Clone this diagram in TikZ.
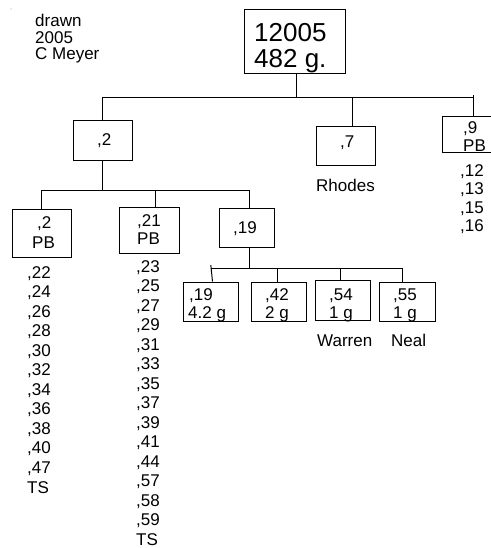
\documentclass[tikz,border=0pt]{standalone}
\usepackage{fontspec}
\setmainfont{Liberation Sans}
\begin{document}
\begin{tikzpicture}[x=1pt,y=-1pt,
  box/.style={draw, line width=1pt, inner sep=0pt},
  conn/.style={line width=1pt},
  lbl/.style={anchor=base west, inner sep=0pt, font=\fontsize{17}{19.5}\selectfont},
  big/.style={anchor=base west, inner sep=0pt, font=\fontsize{26}{26}\selectfont}]
\useasboundingbox (0,0) rectangle (490,548);
\fill[gray!70] (11,9) circle (0.6);
% header
\node[lbl] (hd1) at (35,27) {drawn};
\node[lbl] (hd2) at (35,44) {2005};
\node[lbl] (hd3) at (35,60) {C Meyer};
% boxes
\node[box, minimum width=101pt, minimum height=64pt] (root) at (294.5,42) {};
\node[box, minimum width=59pt, minimum height=40pt] (n2) at (102.5,141) {};
\node[box, minimum width=59pt, minimum height=39pt] (n7) at (345.5,146.5) {};
\node[box, minimum width=60pt, minimum height=36pt] (n9) at (472,135) {};
\node[box, minimum width=59pt, minimum height=48pt] (n2pb) at (41.5,233) {};
\node[box, minimum width=60pt, minimum height=46pt] (n21pb) at (149,230) {};
\node[box, minimum width=55pt, minimum height=39pt] (n19) at (246.5,227.5) {};
\node[box, minimum width=55pt, minimum height=39pt] (n19b) at (210.5,301.5) {};
\node[box, minimum width=55pt, minimum height=39pt] (n42) at (278.5,301.5) {};
\node[box, minimum width=55pt, minimum height=40pt] (n54) at (342.5,300) {};
\node[box, minimum width=56pt, minimum height=39pt] (n55) at (407,301.5) {};
% box texts
\node[big] (t0a) at (254,42) {12005};
\node[big] (t0b) at (254,68) {482 g.};
\node[lbl] (t2) at (97,146) {,2};
\node[lbl] (t7) at (340,148) {,7};
\node[lbl] (rh) at (316,191) {Rhodes};
\node[lbl] (t9a) at (463,134) {,9};
\node[lbl] (t9b) at (463,152) {PB};
\node[lbl] (t2a) at (37,228) {,2};
\node[lbl] (t2b) at (32,248) {PB};
\node[lbl] (t21a) at (137,226) {,21};
\node[lbl] (t21b) at (137,244) {PB};
\node[lbl] (t19) at (233,233) {,19};
\node[lbl] (t19a) at (189,300) {,19};
\node[lbl] (t19b) at (188,318) {4.2 g};
\node[lbl] (t42a) at (265,300) {,42};
\node[lbl] (t42b) at (265,318) {2 g};
\node[lbl] (t54a) at (329,300) {,54};
\node[lbl] (t54b) at (329,318) {1 g};
\node[lbl] (t55a) at (393,300) {,55};
\node[lbl] (t55b) at (393,318) {1 g};
\node[lbl] (wa) at (317,346) {Warren};
\node[lbl] (ne) at (391,346) {Neal};
% lists
\node[lbl] (l9a) at (460,176) {,12};
\node[lbl] (l9b) at (460,194) {,13};
\node[lbl] (l9c) at (460,213) {,15};
\node[lbl] (l9d) at (460,231) {,16};
\foreach \t [count=\i from 0] in {{,22},{,24},{,26},{,28},{,30},{,32},{,34},{,36},{,38},{,40},{,47},{TS}}
  \node[lbl] (la\i) at (27,278+19.55*\i) {\t};
\foreach \t [count=\i from 0] in {{,23},{,25},{,27},{,29},{,31},{,33},{,35},{,37},{,39},{,41},{,44},{,57},{,58},{,59},{TS}}
  \node[lbl] (lb\i) at (136,272+19.5*\i) {\t};
% connectors
\coordinate (bar1) at (0,98);
\coordinate (bar2) at (0,190.5);
\coordinate (bar3) at (0,268);
\draw[conn] ([xshift=1.5pt]root.south) -- ([xshift=1.5pt]root.south |- bar1);
\draw[conn] (n2.north) -- (n2.north |- bar1) -- ([xshift=1pt]n9.north |- bar1);
\draw[conn] ([xshift=6.5pt]n7.north) -- ([xshift=6.5pt]n7.north |- bar1);
\draw[conn] ([xshift=1pt]n9.north) -- ([xshift=1pt,yshift=3pt]n9.north |- bar1);
\draw[conn] (n2.south) -- (n2.south |- bar2);
\draw[conn] (n2pb.north) -- (n2pb.north |- bar2) -- ([xshift=2.5pt]n19.north |- bar2) -- ([xshift=2.5pt]n19.north);
\draw[conn] ([xshift=6pt]n21pb.north) -- ([xshift=6pt]n21pb.north |- bar2);
\draw[conn] ([xshift=2.5pt]n19.south) -- ([xshift=2.5pt]n19.south |- bar3);
\draw[conn] (n19b.north |- bar3) -- ([xshift=-5pt]n55.north |- bar3) -- ([xshift=-5pt]n55.north);
\draw[conn] ([xshift=0.3pt,yshift=3pt]n19b.north |- bar3) -- ([xshift=2pt]n19b.north);
\draw[conn] ([xshift=-1.5pt]n42.north) -- ([xshift=-1.5pt]n42.north |- bar3);
\draw[conn] ([xshift=-2.5pt]n54.north) -- ([xshift=-2.5pt]n54.north |- bar3);
\end{tikzpicture}
\end{document}
